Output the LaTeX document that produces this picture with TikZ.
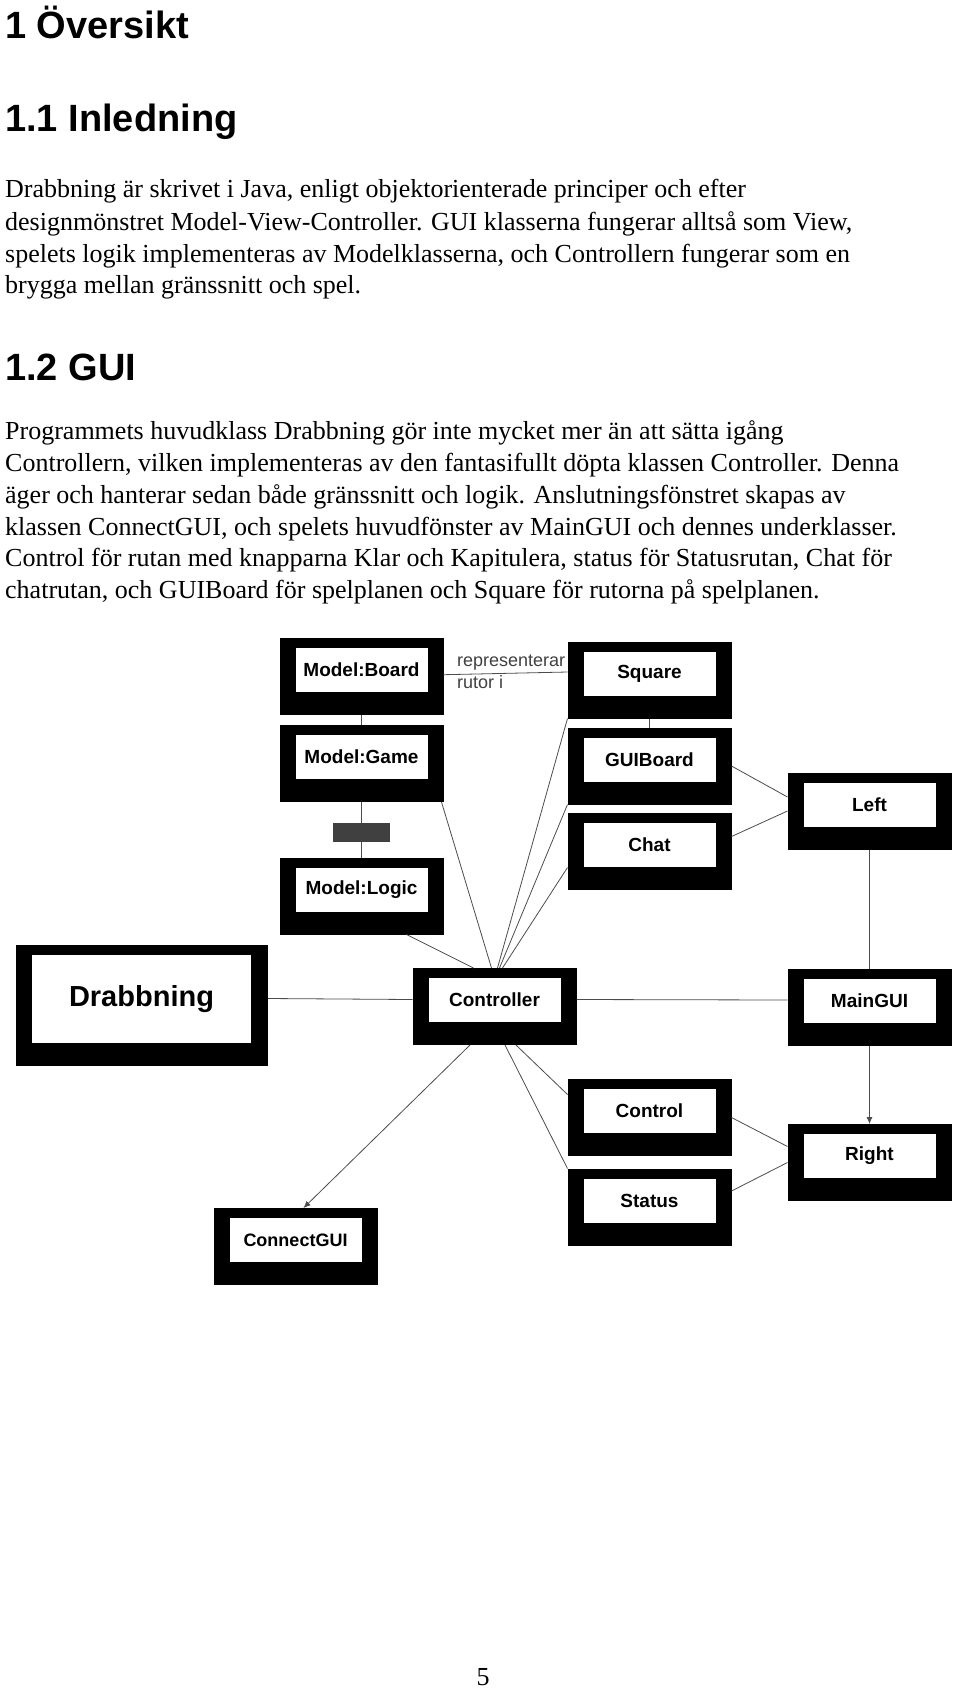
\documentclass[tikz,border=0pt]{standalone}
\usepackage{fontspec}
\setmainfont{Liberation Serif}
\newfontfamily\arialfont{Liberation Sans}
\usetikzlibrary{arrows.meta,calc}

\begin{document}
\begin{tikzpicture}[
        x=1pt,y=-1pt,
        %Environment Config
        OuterBox/.style={%black frame of a class
            fill=black,
            inner sep=0pt,
            outer sep=0pt,
            minimum width=164pt,
            minimum height=77pt
        },
        InnerBox/.style={%white face with the class name
            fill=white,
            inner sep=0pt,
            minimum width=132pt,
            minimum height=44pt,
            font=\arialfont\bfseries\fontsize{19}{22}\selectfont
        },
        Link/.style={%Style for the connectors
            black!70,
            line width=0.8pt
        },
        LinkArrow/.style={
            Link,
            -{Latex[length=7pt,width=6pt]}
        },
        Heading/.style={anchor=base west, inner sep=0pt,
            font=\arialfont\bfseries\fontsize{38}{44}\selectfont},
        BodyLine/.style={anchor=base west, inner sep=0pt,
            font=\fontsize{26}{30}\selectfont},
        EdgeText/.style={anchor=base west, inner sep=0pt, black!75,
            font=\arialfont\fontsize{18}{20}\selectfont}
    ]
    \def\ClassBox(#1,#2)#3#4{%class box: inner centre, name, label
        \node[OuterBox] (#3) at (#1,#2+6.5) {};
        \node[InnerBox] (#3 IN) at (#1,#2) {#4};
    }
    \useasboundingbox (0,0) rectangle (960,1690);

    %%%%%%%%%%%%%%%%%%%%%%%%%%%%%%%%%%%%%%%%%%%%%%%%%%%%%%%%%%%%%%%%%%%%%%%%%%%%
    % TEXT
    %%%%%%%%%%%%%%%%%%%%%%%%%%%%%%%%%%%%%%%%%%%%%%%%%%%%%%%%%%%%%%%%%%%%%%%%%%%%
    \node[Heading] (H1) at (5,38) {1 Översikt};
    \node[Heading] (H2) at (5,131) {1.1 Inledning};
    \node[BodyLine] (P1) at (5,197) {Drabbning är skrivet i Java, enligt objektorienterade principer och efter};
    \node[BodyLine] (P2) at (5,230) {designmönstret Model-View-Controller. GUI klasserna fungerar alltså som View,};
    \node[BodyLine] (P3) at (5,262) {spelets logik implementeras av Modelklasserna, och Controllern fungerar som en};
    \node[BodyLine] (P4) at (5,293) {brygga mellan gränssnitt och spel.};
    \node[Heading] (H3) at (5,380) {1.2 GUI};
    \node[BodyLine] (Q1) at (5,439) {Programmets huvudklass Drabbning gör inte mycket mer än att sätta igång};
    \node[BodyLine] (Q2) at (5,471) {Controllern, vilken implementeras av den fantasifullt döpta klassen Controller. Denna};
    \node[BodyLine] (Q3) at (5,503) {äger och hanterar sedan både gränssnitt och logik. Anslutningsfönstret skapas av};
    \node[BodyLine] (Q4) at (5,535) {klassen ConnectGUI, och spelets huvudfönster av MainGUI och dennes underklasser.};
    \node[BodyLine] (Q5) at (5,566) {Control för rutan med knapparna Klar och Kapitulera, status för Statusrutan, Chat för};
    \node[BodyLine] (Q6) at (5,598) {chatrutan, och GUIBoard för spelplanen och Square för rutorna på spelplanen.};
    \node[BodyLine, anchor=base] (PageNo) at (483,1685) {5};

    %%%%%%%%%%%%%%%%%%%%%%%%%%%%%%%%%%%%%%%%%%%%%%%%%%%%%%%%%%%%%%%%%%%%%%%%%%%%
    % DIAGRAM
    %%%%%%%%%%%%%%%%%%%%%%%%%%%%%%%%%%%%%%%%%%%%%%%%%%%%%%%%%%%%%%%%%%%%%%%%%%%%
    % model part
    \ClassBox(361.5,670){Board}{Model:Board}
    \ClassBox(361.5,757){Game}{Model:Game}
    \ClassBox(361.5,889.5){Logic}{Model:Logic}
    % view part
    \node[EdgeText] (Rep1) at (457,666) {representerar};
    \node[EdgeText] (Rep2) at (457,688) {rutor i};
    \ClassBox(649.5,673.5){Square}{Square}
    \ClassBox(649.5,759.5){GUIBoard}{GUIBoard}
    \ClassBox(649.5,845){Chat}{Chat}
    \ClassBox(869.5,804.5){Left}{Left}
    \ClassBox(494.5,1000){Controller}{Controller}
    \ClassBox(869.5,1000.5){MainGUI}{MainGUI}
    \ClassBox(649.5,1111){Control}{Control}
    \ClassBox(869.5,1156){Right}{Right}
    \ClassBox(649.5,1200.5){Status}{Status}
    \ClassBox(295.5,1240){ConnectGUI}{\fontsize{18}{20}\selectfont ConnectGUI}
    % main class
    \node[OuterBox, minimum width=252pt, minimum height=121pt] (Drabbning) at (142,1005.5) {};
    \node[InnerBox, minimum width=219pt, minimum height=88pt,
        font=\arialfont\bfseries\fontsize{29}{34}\selectfont] (Drabbning IN) at (141.5,999) {Drabbning};

    % connectors
    \draw[Link] (Board) -- ($(Square.west)+(0,-8)$);
    \draw[Link] (Board) -- (Game);
    \draw[Link] (Game) -- (Logic) node[midway, fill=white, inner sep=1pt, black!75,
        font=\arialfont\fontsize{18}{20}\selectfont, yshift=-3pt] (Skapar) {skapar};
    \draw[Link] (Square) -- (GUIBoard);
    \draw[Link] ($(Game.south east)+(-2,0)$) -- ($(Controller.north)+(-3,0)$);
    \draw[Link] ($(Logic.south)+(45,0)$) -- ($(Controller.north)+(-21,0)$);
    \draw[Link] ($(Controller.north)+(3,0)$) -- (Square.south west);
    \draw[Link] ($(Controller.north)+(5,0)$) -- (GUIBoard.south west);
    \draw[Link] ($(Controller.north)+(8,0)$) -- ($(Chat.west)+(0,16)$);
    \draw[Link] (GUIBoard.east) -- ($(Left.west)+(0,-14)$);
    \draw[Link] ($(Chat.east)+(0,-15)$) -- (Left.west);
    \draw[Link] (Left) -- (MainGUI);
    \draw[LinkArrow] (MainGUI) -- (Right);
    \draw[Link] ($(Drabbning.east)+(0,-7)$) -- ($(Controller.west)+(0,-7)$);
    \draw[Link] ($(Controller.east)+(0,-7)$) -- ($(MainGUI.west)+(0,-7)$);
    \draw[LinkArrow] ($(Controller.south)+(-24.5,0)$) -- ($(ConnectGUI.north)+(8,0)$);
    \draw[Link] ($(Controller.south)+(21.5,0)$) -- ($(Control.west)+(0,-23)$);
    \draw[Link] ($(Controller.south)+(10.5,0)$) -- (Status.north west);
    \draw[Link] (Control.east) -- ($(Right.west)+(0,-16)$);
    \draw[Link] ($(Status.east)+(0,-16)$) -- (Right.west);
\end{tikzpicture}
\end{document}
